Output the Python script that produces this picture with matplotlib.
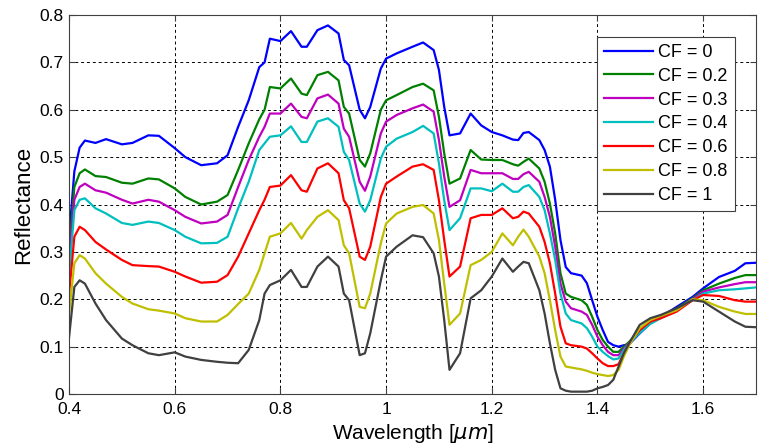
import matplotlib
matplotlib.use('Agg')
import matplotlib.pyplot as plt

plt.rcParams['font.family'] = ['Liberation Sans', 'DejaVu Sans']

# wavelength grid (um)
wl = [0.40, 0.41, 0.42, 0.43, 0.45, 0.47, 0.50, 0.52, 0.55, 0.57, 0.60, 0.62, 0.65, 0.68,
      0.70, 0.72, 0.74, 0.76, 0.77, 0.78, 0.80, 0.82, 0.84, 0.85, 0.87, 0.89, 0.91, 0.92,
      0.93, 0.95, 0.96, 0.97, 0.99, 1.00, 1.02, 1.05, 1.07, 1.09, 1.10, 1.11, 1.12, 1.14,
      1.16, 1.18, 1.20, 1.22, 1.24, 1.25, 1.26, 1.27, 1.29, 1.30, 1.31, 1.32, 1.33, 1.34,
      1.35, 1.37, 1.38, 1.39, 1.40, 1.41, 1.42, 1.43, 1.44, 1.45, 1.46, 1.48, 1.50, 1.52,
      1.55, 1.58, 1.60, 1.63, 1.66, 1.68, 1.70]

cf_0 = [0.33, 0.47, 0.52, 0.535, 0.53, 0.538, 0.527, 0.53, 0.546, 0.545, 0.519, 0.50, 0.483, 0.487,
        0.504, 0.564, 0.62, 0.69, 0.70, 0.75, 0.745, 0.766, 0.733, 0.733, 0.768, 0.778, 0.761, 0.705,
        0.694, 0.60, 0.582, 0.606, 0.687, 0.708, 0.719, 0.733, 0.742, 0.726, 0.684, 0.606, 0.546, 0.55,
        0.592, 0.567, 0.553, 0.546, 0.537, 0.536, 0.551, 0.553, 0.536, 0.515, 0.48, 0.41, 0.325, 0.268,
        0.255, 0.25, 0.234, 0.198, 0.163, 0.135, 0.11, 0.103, 0.10, 0.103, 0.105, 0.128, 0.149, 0.163,
        0.184, 0.205, 0.223, 0.247, 0.26, 0.276, 0.277]

cf_02 = [0.30, 0.437, 0.466, 0.474, 0.46, 0.458, 0.446, 0.444, 0.455, 0.453, 0.434, 0.416, 0.40, 0.406,
         0.42, 0.473, 0.529, 0.58, 0.60, 0.648, 0.645, 0.666, 0.634, 0.631, 0.673, 0.68, 0.662, 0.606,
         0.592, 0.494, 0.48, 0.508, 0.60, 0.62, 0.631, 0.648, 0.655, 0.641, 0.585, 0.508, 0.444, 0.455,
         0.515, 0.495, 0.494, 0.494, 0.485, 0.482, 0.49, 0.497, 0.476, 0.448, 0.402, 0.339, 0.255, 0.212,
         0.205, 0.198, 0.188, 0.163, 0.135, 0.114, 0.10, 0.089, 0.089, 0.10, 0.11, 0.135, 0.153, 0.163,
         0.181, 0.202, 0.219, 0.233, 0.245, 0.251, 0.251]

cf_03 = [0.28, 0.41, 0.437, 0.444, 0.43, 0.425, 0.41, 0.402, 0.41, 0.406, 0.388, 0.374, 0.36, 0.364,
         0.378, 0.437, 0.494, 0.543, 0.564, 0.592, 0.592, 0.613, 0.585, 0.582, 0.624, 0.632, 0.613, 0.56,
         0.543, 0.448, 0.429, 0.459, 0.55, 0.575, 0.589, 0.603, 0.611, 0.596, 0.536, 0.459, 0.395, 0.409,
         0.473, 0.466, 0.466, 0.466, 0.454, 0.454, 0.464, 0.469, 0.448, 0.416, 0.374, 0.311, 0.233, 0.195,
         0.181, 0.174, 0.167, 0.146, 0.121, 0.103, 0.089, 0.082, 0.082, 0.096, 0.108, 0.132, 0.15, 0.162,
         0.179, 0.20, 0.216, 0.225, 0.232, 0.236, 0.236]

cf_04 = [0.25, 0.388, 0.41, 0.413, 0.392, 0.381, 0.361, 0.357, 0.364, 0.361, 0.346, 0.332, 0.318, 0.319,
         0.332, 0.392, 0.448, 0.515, 0.529, 0.543, 0.546, 0.565, 0.532, 0.532, 0.575, 0.582, 0.564, 0.511,
         0.494, 0.402, 0.385, 0.409, 0.497, 0.522, 0.539, 0.553, 0.566, 0.55, 0.487, 0.409, 0.346, 0.371,
         0.434, 0.434, 0.428, 0.444, 0.427, 0.427, 0.437, 0.441, 0.416, 0.388, 0.339, 0.283, 0.212, 0.17,
         0.156, 0.149, 0.139, 0.121, 0.10, 0.089, 0.08, 0.073, 0.075, 0.093, 0.107, 0.129, 0.148, 0.16,
         0.177, 0.198, 0.212, 0.219, 0.221, 0.223, 0.225]

cf_06 = [0.21, 0.332, 0.353, 0.346, 0.321, 0.305, 0.283, 0.272, 0.27, 0.269, 0.258, 0.248, 0.235, 0.237,
         0.251, 0.29, 0.339, 0.388, 0.41, 0.437, 0.44, 0.462, 0.43, 0.427, 0.476, 0.487, 0.466, 0.409,
         0.392, 0.29, 0.283, 0.311, 0.416, 0.444, 0.459, 0.48, 0.485, 0.473, 0.409, 0.325, 0.248, 0.269,
         0.371, 0.378, 0.378, 0.392, 0.371, 0.374, 0.385, 0.381, 0.353, 0.321, 0.276, 0.212, 0.142, 0.107,
         0.103, 0.10, 0.096, 0.086, 0.075, 0.065, 0.059, 0.059, 0.063, 0.086, 0.107, 0.135, 0.153, 0.16,
         0.174, 0.198, 0.209, 0.207, 0.198, 0.195, 0.195]

cf_08 = [0.17, 0.276, 0.293, 0.286, 0.255, 0.233, 0.205, 0.191, 0.179, 0.176, 0.17, 0.16, 0.153, 0.153,
         0.167, 0.19, 0.212, 0.262, 0.297, 0.332, 0.339, 0.361, 0.328, 0.346, 0.374, 0.388, 0.367, 0.314,
         0.297, 0.184, 0.181, 0.212, 0.318, 0.36, 0.381, 0.395, 0.399, 0.381, 0.325, 0.233, 0.146, 0.17,
         0.272, 0.283, 0.30, 0.339, 0.314, 0.332, 0.347, 0.332, 0.29, 0.255, 0.198, 0.135, 0.079, 0.058,
         0.056, 0.052, 0.049, 0.045, 0.042, 0.04, 0.038, 0.04, 0.051, 0.079, 0.103, 0.139, 0.156, 0.165,
         0.177, 0.20, 0.198, 0.184, 0.174, 0.169, 0.169]

cf_1 = [0.12, 0.226, 0.24, 0.233, 0.191, 0.156, 0.117, 0.103, 0.086, 0.082, 0.088, 0.079, 0.072, 0.068,
        0.066, 0.065, 0.093, 0.156, 0.212, 0.23, 0.24, 0.262, 0.226, 0.226, 0.269, 0.29, 0.269, 0.212,
        0.198, 0.082, 0.086, 0.128, 0.24, 0.29, 0.311, 0.335, 0.331, 0.297, 0.248, 0.156, 0.051, 0.086,
        0.202, 0.219, 0.248, 0.286, 0.258, 0.269, 0.279, 0.276, 0.219, 0.17, 0.107, 0.051, 0.012, 0.007,
        0.005, 0.005, 0.005, 0.007, 0.012, 0.015, 0.019, 0.03, 0.058, 0.086, 0.107, 0.146, 0.16, 0.167,
        0.181, 0.198, 0.195, 0.174, 0.153, 0.142, 0.141]

series = [cf_0, cf_02, cf_03, cf_04, cf_06, cf_08, cf_1]
labels = ['CF = 0', 'CF = 0.2', 'CF = 0.3', 'CF = 0.4', 'CF = 0.6', 'CF = 0.8', 'CF = 1']
colors = ['#0000ff', '#008000', '#bf00bf', '#00bfbf', '#ff0000', '#bfbf00', '#404040']

fig = plt.figure(figsize=(7.59, 4.48), dpi=100)
ax = fig.add_axes([0.091, 0.1205, 0.905, 0.846])

for y, lab, c in zip(series, labels, colors):
    ax.plot(wl, y, color=c, linewidth=1.6, label=lab)

ax.set_xlim(0.4, 1.7)
ax.set_ylim(0, 0.8)
ax.set_xticks([0.4, 0.6, 0.8, 1.0, 1.2, 1.4, 1.6])
ax.set_xticklabels(['0.4', '0.6', '0.8', '1', '1.2', '1.4', '1.6'])
ax.set_yticks([0, 0.1, 0.2, 0.3, 0.4, 0.5, 0.6, 0.7, 0.8])
ax.set_yticklabels(['0', '0.1', '0.2', '0.3', '0.4', '0.5', '0.6', '0.7', '0.8'])
ax.tick_params(direction='in', top=True, right=True, labelsize=12.5, length=4,
               color='#404040')
ax.tick_params(axis='x', pad=6)
ax.tick_params(axis='y', pad=4)
ax.grid(True, color='black', linestyle=(0, (3, 3)), linewidth=0.7)
for s in ax.spines.values():
    s.set_color('#404040')

ax.set_xlabel(r'Wavelength [$\mu m$]', fontsize=15, labelpad=3)
ax.set_ylabel('Reflectance', fontsize=16, labelpad=4)

leg = ax.legend(loc='upper right', bbox_to_anchor=(0.969, 0.943), borderaxespad=0,
                fontsize=13, fancybox=False, framealpha=1, edgecolor='#404040',
                handlelength=2.7, borderpad=0.4, labelspacing=0.38, handletextpad=0.3)
leg.get_frame().set_linewidth(0.8)

fig.savefig('out.png', dpi=100)
